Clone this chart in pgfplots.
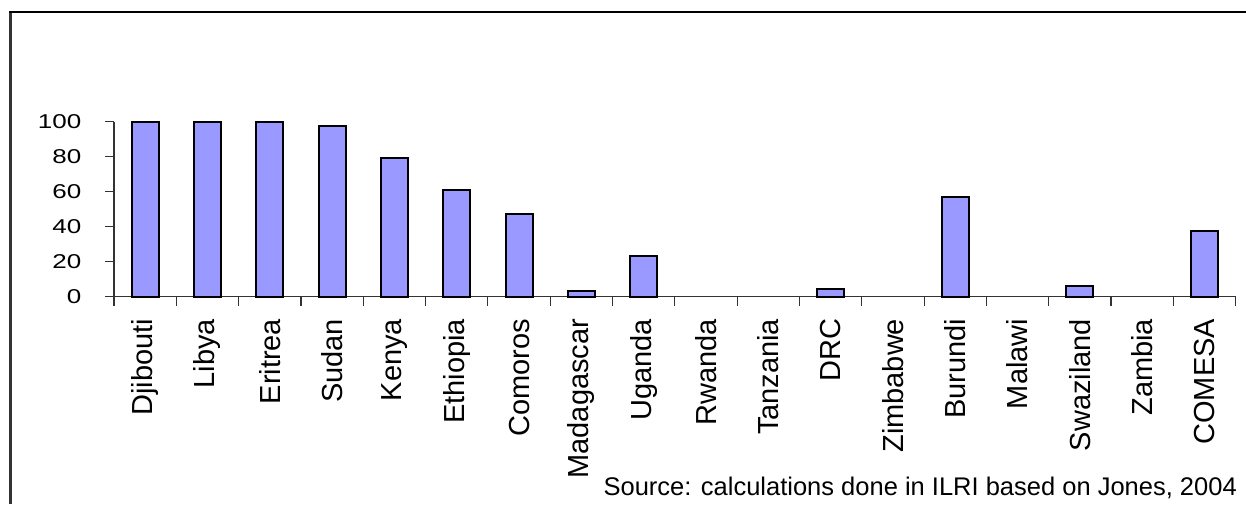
\documentclass[border=0pt]{standalone}
\usepackage{pgfplots}
\pgfplotsset{compat=1.18}
\usepackage{fontspec}
\setmainfont{Liberation Sans}
\definecolor{barfill}{HTML}{9999FF}
\begin{document}
\begin{tikzpicture}[x=1pt,y=1pt]
\useasboundingbox (0,0) rectangle (1246,504);
\draw[line width=2.5pt, black!80] (10.5,0) -- (10.5,492);
\draw[line width=2pt, black] (9.25,492) -- (1246,492);
\begin{axis}[
  at={(114pt,207.3pt)}, anchor=south west,
  scale only axis, width=1121.7pt, height=175pt,
  xmin=-0.5, xmax=17.5, ymin=0, ymax=100,
  clip=false,
  axis x line*=bottom, axis y line*=left,
  axis line style={line width=1.3pt, black!80, -},
  ytick={0,20,...,100},
  xtick={0,...,17},
  xticklabels={Djibouti,Libya,Eritrea,Sudan,Kenya,Ethiopia,Comoros,Madagascar,Uganda,Rwanda,Tanzania,DRC,Zimbabwe,Burundi,Malawi,Swaziland,Zambia,COMESA},
  minor xtick={-0.5,0.5,...,17.5},
  major x tick style={draw=none},
  minor tick length=9pt,
  tick align=outside,
  major tick length=9pt,
  tick style={line width=1.2pt, black!80},
  /pgf/number format/assume math mode=true,
  yticklabel style={font=\fontsize{20}{20}\selectfont, xscale=1.3, anchor=east, inner sep=0pt, xshift=-18pt},
  xticklabel style={font=\fontsize{29}{29}\selectfont, yshift=-13pt, rotate=90, anchor=east, inner sep=0pt},
]
\addplot[ybar, bar width=27pt, fill=barfill, draw=black, line width=2pt] coordinates {
 (0,100) (1,100) (2,100) (3,97.7) (4,79) (5,61) (6,47.4) (7,3.4) (8,23)
 (11,4.6) (13,57) (15,5.9) (17,37.7)
};
\end{axis}
\node[anchor=base east, inner sep=0pt, font=\fontsize{25.5}{25.5}\selectfont] at (1237,9) {Source: calculations done in ILRI based on Jones, 2004};
\end{tikzpicture}
\end{document}
